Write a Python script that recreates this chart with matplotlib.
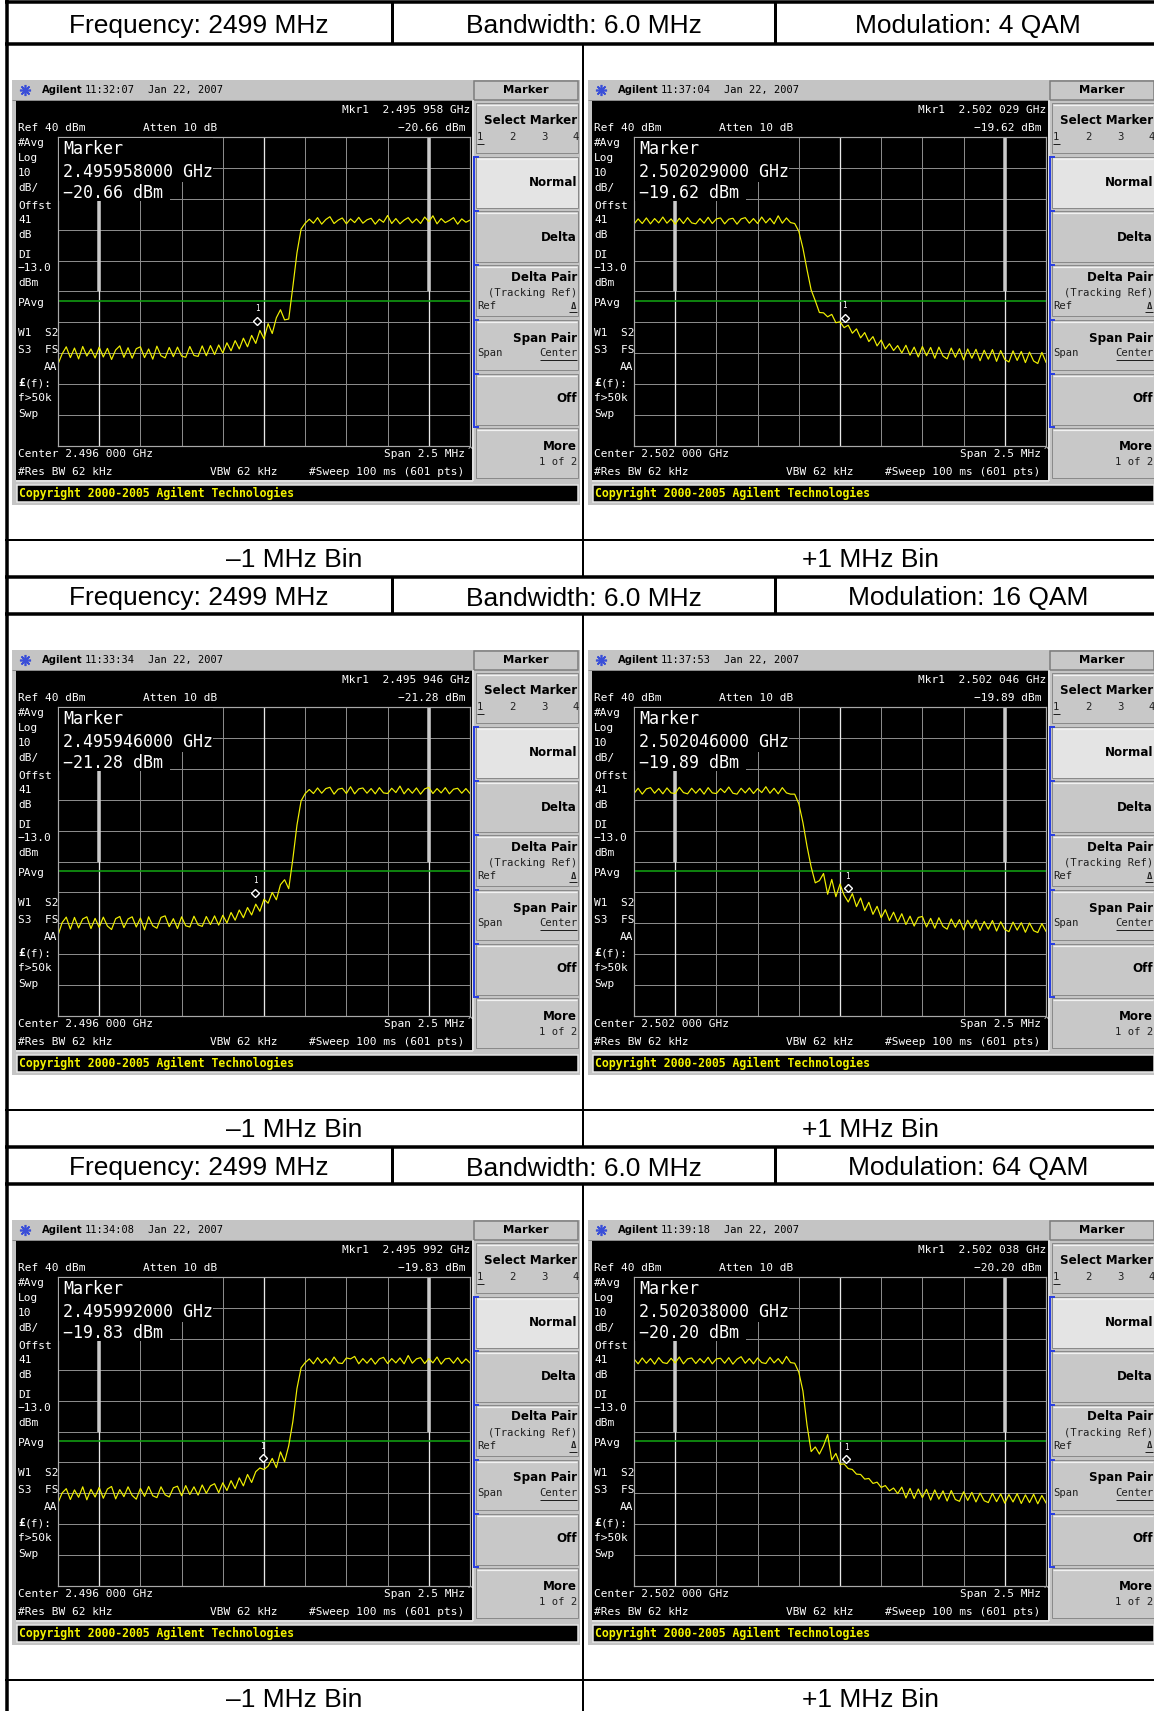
import numpy as np
import matplotlib
matplotlib.use("Agg")
import matplotlib.pyplot as plt
from matplotlib.patches import Rectangle

W, H = 1154, 1711

# table texts
HEADER_FREQ = "Frequency: 2499 MHz"
HEADER_BW = "Bandwidth: 6.0 MHz"
MODULATIONS = ["4 QAM", "16 QAM", "64 QAM"]
BIN_LABELS = ["–1 MHz Bin", "+1 MHz Bin"]

# screenshots, in reading order: 4 QAM -1/+1, 16 QAM -1/+1, 64 QAM -1/+1
TIMES = ["11:32:07", "11:37:04", "11:33:34", "11:37:53", "11:34:08", "11:39:18"]
DATE = "Jan 22, 2007"
CENTER_GHZ = [2.496, 2.502, 2.496, 2.502, 2.496, 2.502]
MARKER_GHZ = [2.495958, 2.502029, 2.495946, 2.502046, 2.495992, 2.502038]
MARKER_DBM = [-20.66, -19.62, -21.28, -19.89, -19.83, -20.20]

REF_DBM = 40
DB_DIV = 10
SPAN_MHZ = 2.5
DISPLAY_LINE = -13.0

# trace levels (dBm), sweep read left to right across the span
TRACE_L1 = [-33.5, -30.2, -27.9, -31.4, -28.3, -31.8, -27.8, -30.9, -28.6, -31.5,
            -28.0, -31.2, -28.4, -32.0, -28.9, -27.6, -31.3, -28.2, -31.6, -28.5,
            -27.9, -31.4, -28.6, -31.9, -27.7, -30.8, -31.5, -28.1, -31.1, -28.0,
            -30.9, -31.3, -27.8, -30.7, -31.0, -27.6, -30.8, -27.5, -30.4, -27.3,
            -29.9, -26.6, -29.2, -25.9, -28.6, -25.1, -27.9, -24.2, -26.8, -22.6,
            -25.3, -20.4, -23.6, -18.5, -15.9, -19.2, -18.9, -8.5, 2.5, 10.2, 12.1,
            13.4, 12.1, 13.9, 11.8, 13.3, 14.2, 12.0, 13.1, 13.8, 11.9,
            13.5, 12.3, 14.0, 12.1, 13.2, 13.7, 11.8, 13.4, 12.4, 14.6,
            12.0, 13.6, 11.9, 13.1, 13.9, 12.2, 13.5, 12.0, 14.1, 12.6,
            14.5, 11.9, 13.6, 12.3, 13.0, 13.9, 11.8, 13.5, 12.4, 13.1]
TRACE_R1 = [11.8, 13.5, 12.0, 13.8, 11.9, 13.6, 12.2, 14.1, 12.1, 13.5,
            11.8, 13.7, 12.0, 13.9, 12.2, 11.9, 13.6, 12.1, 14.0, 12.0,
            13.5, 13.8, 11.9, 13.4, 13.7, 11.8, 13.5, 13.9, 12.1, 13.6,
            12.0, 14.1, 12.2, 13.7, 11.9, 14.5, 12.1, 13.8, 12.3,
            12.0, 9.5, 4.0, -3.0, -9.5, -13.0, -16.8, -16.9, -18.2, -17.4,
            -20.1, -19.8, -21.7, -20.9, -23.5, -22.1, -25.0, -23.3, -26.2, -24.6,
            -27.6, -25.7, -28.6, -26.9, -29.1,
            -27.5, -29.9, -27.4, -30.6, -28.0, -31.2, -27.8, -30.8, -28.1, -31.6,
            -28.0, -30.9, -31.8, -28.3, -31.3, -28.5, -32.1, -28.6, -31.6, -28.7,
            -32.4, -29.0, -31.9, -28.8, -32.6, -29.1, -32.0, -32.8, -29.2, -32.3,
            -29.4, -33.0, -29.6, -32.5, -33.3, -29.7, -32.9]
TRACE_L2 = [-33.9, -29.8, -28.0, -31.9, -28.1, -31.5, -28.6, -27.9, -31.7, -28.4,
            -31.3, -28.0, -30.9, -32.0, -28.5, -27.8, -31.4, -28.6, -27.9, -31.2,
            -28.3, -32.1, -27.9, -30.8, -31.6, -28.1, -27.6, -31.1, -28.5, -31.7,
            -27.9, -30.8, -31.2, -27.7, -30.5, -31.0, -27.8, -30.4, -27.6, -30.6,
            -27.4, -29.9, -26.5, -29.0, -25.7, -28.2, -24.9, -27.3, -23.8, -26.1,
            -22.2, -23.5, -20.0, -22.4, -17.5, -15.9, -18.8, -9.2, 1.8, 9.6, 12.0,
            13.3, 12.0, 13.8, 12.1, 13.6, 14.0, 11.8, 13.4, 13.7, 12.0,
            14.2, 11.9, 13.5, 13.8, 12.1, 13.6, 11.9, 13.9, 12.2, 12.0,
            13.7, 12.3, 14.4, 11.9, 13.6, 12.1, 13.8, 11.8, 13.5, 14.0,
            12.0, 13.6, 12.2, 13.9, 11.9, 13.4, 13.7, 12.1, 13.6, 12.0]
TRACE_R2 = [12.0, 13.7, 11.8, 13.5, 13.9, 12.1, 13.6, 11.9, 13.8, 12.2,
            12.0, 14.0, 12.3, 11.9, 13.7, 12.1, 13.6, 11.8, 13.9, 12.2,
            12.0, 13.6, 12.3, 14.1, 12.1, 11.8, 13.7, 12.2, 13.8, 12.0,
            13.6, 12.3, 14.2, 12.1, 13.7, 11.9, 13.9, 12.2, 11.8,
            11.8, 8.7, 2.6, -5.1, -11.8, -16.9, -16.2, -13.9, -20.6, -15.8,
            -21.4, -17.3, -20.9, -23.1, -20.4, -24.6, -21.8, -25.9, -23.2, -27.1,
            -24.5, -28.2, -25.6, -29.1, -26.4,
            -29.6, -26.9, -30.4, -27.7, -30.9, -28.1, -27.8, -31.2, -28.4, -31.6,
            -28.2, -31.0, -31.9, -28.6, -31.3, -28.8, -32.1, -29.0, -31.6, -28.9,
            -32.3, -29.4, -31.9, -29.1, -32.5, -29.5, -32.0, -32.7, -29.6, -32.2,
            -29.8, -32.9, -29.9, -32.4, -33.0, -30.1, -32.6]
TRACE_L3 = [-33.1, -29.9, -28.5, -32.0, -28.9, -31.3, -27.9, -32.1, -28.7, -31.2,
            -28.1, -31.6, -28.6, -27.8, -31.8, -28.8, -31.1, -27.9, -30.7, -31.9,
            -28.4, -31.0, -27.8, -30.8, -31.4, -27.9, -30.5, -31.2, -28.2, -27.7,
            -30.8, -27.5, -30.4, -27.9, -30.6, -27.3, -30.0, -27.6, -26.9, -29.8,
            -26.6, -29.1, -25.9, -28.5, -25.0, -27.6, -23.9, -26.5, -23.0, -21.8,
            -22.3, -21.2, -18.7, -21.7, -16.6, -19.8, -14.6, -6.8, 3.9, 10.6, 12.3,
            13.5, 11.9, 13.9, 12.1, 13.6, 11.8, 14.1, 12.2, 12.0, 13.8,
            13.5, 14.3, 11.9, 13.6, 12.1, 13.7, 11.8, 13.5, 14.0, 12.0,
            13.6, 12.2, 13.8, 11.9, 14.6, 12.1, 13.5, 13.9, 12.0, 13.6,
            12.2, 14.1, 11.8, 13.5, 13.7, 12.1, 13.9, 12.0, 13.5, 12.2]
TRACE_R3 = [13.5, 11.9, 13.8, 12.1, 13.6, 11.8, 13.9, 12.3, 12.0, 13.7,
            12.2, 14.1, 11.9, 13.5, 13.8, 12.0, 13.6, 12.2, 14.0, 11.9,
            13.5, 13.7, 12.1, 13.9, 11.8, 13.4, 14.2, 12.1, 13.6, 11.9,
            13.8, 12.3, 12.0, 14.0, 12.2, 13.6, 11.9, 14.3, 12.3,
            12.1, 9.2, 3.1, -8.0, -16.5, -15.0, -17.3, -14.6, -11.0, -19.2,
            -17.1, -20.6, -20.5, -22.0, -22.3, -23.8, -23.9, -25.4, -25.2, -26.8,
            -26.4, -28.1, -27.5, -29.2, -28.3,
            -30.1, -28.0, -31.5, -28.4, -31.7, -28.6, -31.4, -28.7, -32.2, -28.9,
            -31.9, -29.2, -32.5, -29.1, -32.0, -32.6, -29.5, -32.3, -29.7, -32.8,
            -29.9, -32.4, -33.0, -30.0, -32.7, -30.2, -33.2, -30.4, -32.8, -30.1,
            -33.3, -30.5, -33.0, -30.3, -33.4, -30.7, -33.1]
TRACES = [TRACE_L1, TRACE_R1, TRACE_L2, TRACE_R2, TRACE_L3, TRACE_R3]

LEFT_LABELS = ["#Avg", "Log", "10", "dB/", "Offst", "41", "dB", "DI", "−13.0",
               "dBm", "PAvg", "W1  S2", "S3  FS"]


def pt(pix):
    # pixels -> points at 100 dpi
    return pix * 0.72


def txt(ax, x, y, s, size=8, color="white", ha="left", weight="normal",
        family="DejaVu Sans Mono", zorder=5):
    ax.text(x, y, s, fontsize=size, color=color, ha=ha, va="center",
            fontweight=weight, family=family, zorder=zorder)


def line(ax, xs, ys, lw, color="black", zorder=3):
    ax.plot(xs, ys, color=color, lw=pt(lw), solid_capstyle="butt", zorder=zorder)


def ghz_spaced(g):
    s = "%.6f" % g
    return s[:5] + " " + s[5:]


def draw_softkeys(ax, sx, sy):
    # header of the menu
    ax.add_patch(Rectangle((sx + 462, sy + 1), 104, 19, fc="#c8c8c8", ec="#7c7c7c", lw=pt(1.5), zorder=2))
    txt(ax, sx + 514, sy + 10, "Marker", size=8.2, color="black", ha="center", weight="bold", family="DejaVu Sans")
    keys = [(23, 73), (77, 128), (131, 182), (185, 236), (240, 290), (294, 345), (348, 398)]
    for i, (k0, k1) in enumerate(keys):
        fc = "#e4e4e4" if i == 1 else "#c8c8c8"
        ax.add_patch(Rectangle((sx + 464, sy + k0), 102, k1 - k0, fc=fc, ec="#8a8a8a", lw=pt(1), zorder=2))
        line(ax, [sx + 465, sx + 565], [sy + k0 + 1.5, sy + k0 + 1.5], 1.2, "#f2f2f2")
    bold = dict(size=8.6, color="black", ha="right", weight="bold", family="DejaVu Sans")
    reg = dict(size=7.6, color="#202020")
    r = sx + 565
    txt(ax, r, sy + 40, "Select Marker", **bold)
    for j, n in enumerate("1234"):
        txt(ax, sx + 468 + 32 * j, sy + 57, n, ha="center", **reg)
    line(ax, [sx + 465, sx + 472], [sy + 64, sy + 64], 1, "#202020")
    txt(ax, r, sy + 102, "Normal", **bold)
    txt(ax, r, sy + 157, "Delta", **bold)
    txt(ax, r, sy + 197, "Delta Pair", **bold)
    txt(ax, r, sy + 213, "(Tracking Ref)", ha="right", **reg)
    txt(ax, sx + 465, sy + 226, "Ref", **reg)
    txt(ax, r - 1, sy + 226, "Δ", ha="right", size=6.5, color="#202020", weight="bold")
    line(ax, [r - 8, r], [sy + 232, sy + 232], 1, "#202020")
    txt(ax, r, sy + 258, "Span Pair", **bold)
    txt(ax, sx + 465, sy + 273, "Span", **reg)
    txt(ax, r, sy + 273, "Center", ha="right", **reg)
    line(ax, [r - 37, r], [sy + 280, sy + 280], 1, "#202020")
    txt(ax, r, sy + 318, "Off", **bold)
    txt(ax, r, sy + 366, "More", **bold)
    txt(ax, r, sy + 382, "1 of 2", ha="right", **reg)
    # blue bracket on the active keys
    blue = "#2a3fe0"
    line(ax, [sx + 462, sx + 462], [sy + 77, sy + 347], 2, blue)
    for ty in [77, 131, 185, 240, 294, 347]:
        line(ax, [sx + 461, sx + 467], [sy + ty, sy + ty], 2, blue)


def draw_screen(fig, base, top, sx, sy, n):
    base.add_patch(Rectangle((sx, sy), 568, 425, fc="#c4c4c4", ec="none", zorder=1))
    # title bar
    base.plot(sx + 13, sy + 10, marker=(8, 2, 0), ms=8, color="#3a4fd8", mew=1.2, zorder=4)
    txt(base, sx + 30, sy + 10, "Agilent", size=7.2, color="black", weight="bold", family="DejaVu Sans")
    txt(base, sx + 73, sy + 10, TIMES[n], size=7.5, color="black")
    txt(base, sx + 136, sy + 10, DATE, size=7.5, color="black")
    line(base, [sx, sx + 460], [sy + 19.5, sy + 19.5], 1, "#8a8a8a")
    # black screen
    base.add_patch(Rectangle((sx + 4, sy + 20), 456, 380, fc="black", ec="none", zorder=2))
    line(base, [sx + 461, sx + 461], [sy + 20, sy + 401], 1.5, "#e8e8e8")
    line(base, [sx + 4, sx + 461], [sy + 401, sy + 401], 1.5, "#e8e8e8")
    draw_softkeys(base, sx, sy)

    # annotation around the graticule
    txt(base, sx + 458, sy + 30, "Mkr1  %s GHz" % ghz_spaced(MARKER_GHZ[n]), ha="right")
    txt(base, sx + 6, sy + 48, "Ref %d dBm" % REF_DBM)
    txt(base, sx + 131, sy + 48, "Atten 10 dB")
    txt(base, sx + 453, sy + 48, ("%.2f dBm" % MARKER_DBM[n]).replace("-", "−"), ha="right")
    ys = [63, 78, 93, 108, 126, 140, 155, 175, 188, 203, 223, 253, 270]
    for s, y in zip(LEFT_LABELS, ys):
        txt(base, sx + 6, sy + y, s)
    txt(base, sx + 45, sy + 287, "AA", ha="right")
    txt(base, sx + 6, sy + 303, "£", weight="bold")
    txt(base, sx + 13, sy + 303, "(f):")
    txt(base, sx + 6, sy + 318, "f>50k")
    txt(base, sx + 6, sy + 334, "Swp")
    txt(base, sx + 6, sy + 374, "Center %s GHz" % ghz_spaced(CENTER_GHZ[n]))
    txt(base, sx + 6, sy + 392, "#Res BW 62 kHz")
    txt(base, sx + 198, sy + 392, "VBW 62 kHz")
    txt(base, sx + 453, sy + 374, "Span %.1f MHz" % SPAN_MHZ, ha="right")
    txt(base, sx + 456, sy + 370, "^", size=6)
    txt(base, sx + 452, sy + 392, "#Sweep 100 ms (601 pts)", ha="right")

    # copyright strip
    base.add_patch(Rectangle((sx + 5, sy + 405), 561, 17, fc="black", ec="#e6e6e6", lw=pt(1.5), zorder=2))
    txt(base, sx + 7, sy + 413.5, "Copyright 2000-2005 Agilent Technologies", size=8.3,
        color="#f4f400", weight="bold")

    # graticule
    gx, gy, gw, gh = sx + 46, sy + 57, 412, 309
    ax = fig.add_axes([gx / W, 1 - (gy + gh) / H, gw / W, gh / H], zorder=3)
    ax.set_facecolor("black")
    half = SPAN_MHZ / 2
    ax.set_xlim(-half, half)
    ax.set_ylim(REF_DBM - 10 * DB_DIV, REF_DBM)
    ax.set_xticks(np.linspace(-half, half, 11))
    ax.set_yticks(np.arange(REF_DBM - 10 * DB_DIV, REF_DBM + 1, DB_DIV))
    ax.tick_params(length=0, labelbottom=False, labelleft=False)
    ax.grid(True, color="#8a8a8a", lw=pt(1))
    for s in ax.spines.values():
        s.set_color("#a8a8a8")
        s.set_linewidth(pt(1.2))
    for fx in [-1.0, 0.0, 1.0]:
        ax.axvline(fx, color="#e8e8e8", lw=pt(1.3))
    for fx in [-1.0, 1.0]:
        ax.plot([fx, fx], [-10, REF_DBM], color="#cacaca", lw=pt(3.5), solid_capstyle="butt")
    ax.axhline(DISPLAY_LINE, color="#12a012", lw=pt(1.6))

    trace = TRACES[n]
    freqs = np.linspace(-half, half, len(trace))
    ax.plot(freqs, trace, color="#f0f000", lw=pt(1.2))

    mk = (MARKER_GHZ[n] - CENTER_GHZ[n]) * 1000
    ax.plot(mk, MARKER_DBM[n] + 1.2, marker="D", ms=4.2, mfc="black", mec="white", mew=1)
    ax.text(mk, MARKER_DBM[n] + 5, "1", color="white", fontsize=5.5, ha="center",
            va="center", family="DejaVu Sans Mono")

    # marker readout box in the upper left of the graticule
    top.add_patch(Rectangle((gx + 1, gy + 1), 154, 44, fc="black", ec="none"))
    top.add_patch(Rectangle((gx + 1, gy + 45), 111, 19, fc="black", ec="none"))
    big = dict(size=12, color="white")
    txt(top, gx + 5, gy + 12, "Marker", **big)
    txt(top, gx + 5, gy + 35, "%.9f GHz" % MARKER_GHZ[n], **big)
    txt(top, gx + 5, gy + 56, ("%.2f dBm" % MARKER_DBM[n]).replace("-", "−"), **big)


fig = plt.figure(figsize=(W / 100, H / 100), dpi=100)
base = fig.add_axes([0, 0, 1, 1], zorder=0)
base.set_xlim(0, W)
base.set_ylim(H, 0)
base.axis("off")
top = fig.add_axes([0, 0, 1, 1], zorder=10)
top.set_xlim(0, W)
top.set_ylim(H, 0)
top.axis("off")
top.patch.set_alpha(0)

head = dict(family="Liberation Sans", fontsize=19, color="black", ha="center", va="center")

for k, mod in enumerate(MODULATIONS):
    y0 = 570 * k
    h_top = 1.5 if k == 0 else 7 + y0
    h_bot = 44 + y0
    # header row
    line(base, [5, W], [h_top, h_top], 3.5)
    line(base, [5, W], [h_bot, h_bot], 3.5)
    line(base, [392, 392], [h_top, h_bot], 3)
    line(base, [775, 775], [h_top, h_bot], 3)
    hy = (h_top + h_bot) / 2 + 3
    base.text(199, hy, HEADER_FREQ, **head)
    base.text(583.5, hy, HEADER_BW, **head)
    base.text(968, hy, "Modulation: " + mod, **head)
    # screenshots and bin labels
    line(base, [583, 583], [h_bot, 577 + y0], 2)
    line(base, [5, W], [540 + y0, 540 + y0], 2)
    for c in range(2):
        draw_screen(fig, base, top, 12 + 576 * c, 80 + y0, 2 * k + c)
        base.text([294.5, 871][c], 560 + y0, BIN_LABELS[c], **head)

line(base, [6.5, 6.5], [0, H], 3.5)

fig.savefig("out.png", dpi=100)
